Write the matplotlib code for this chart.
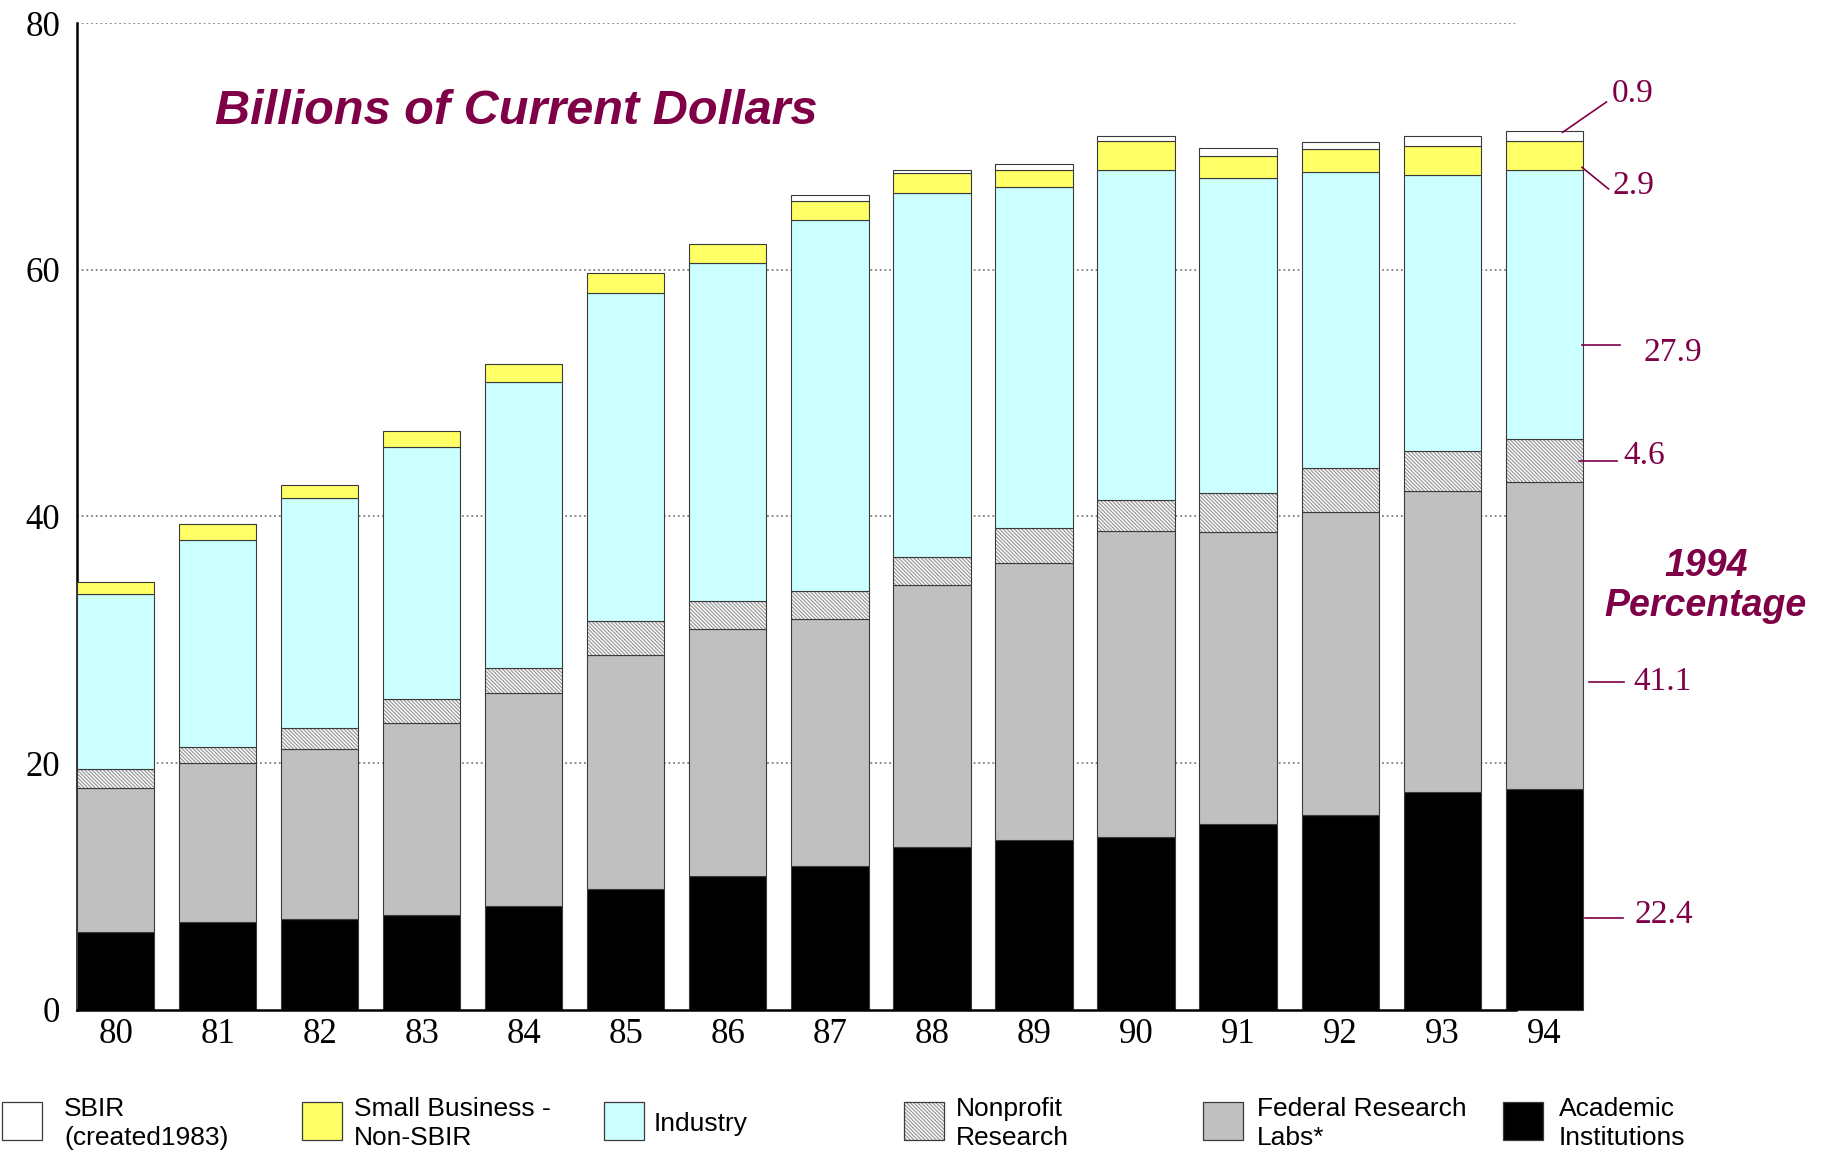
import numpy as np
import matplotlib
matplotlib.use("Agg")
import matplotlib.pyplot as plt
from matplotlib.patches import Rectangle

# Federal R&D obligations by performer, billions of current dollars
years = ["80", "81", "82", "83", "84", "85", "86", "87", "88", "89", "90", "91", "92", "93", "94"]
academic = [6.35, 7.09, 7.37, 7.71, 8.40, 9.82, 10.83, 11.64, 13.17, 13.79, 14.04, 15.04, 15.77, 17.63, 17.94]
federal_labs = [11.66, 12.94, 13.80, 15.51, 17.30, 18.98, 20.01, 20.07, 21.27, 22.46, 24.81, 23.69, 24.61, 24.41, 24.82]
nonprofit = [1.49, 1.27, 1.65, 1.96, 2.02, 2.74, 2.30, 2.21, 2.30, 2.84, 2.46, 3.20, 3.54, 3.24, 3.52]
industry = [14.18, 16.78, 18.65, 20.45, 23.18, 26.59, 27.38, 30.11, 29.45, 27.59, 26.74, 25.50, 24.00, 22.37, 21.83]
small_business = [0.97, 1.34, 1.10, 1.31, 1.46, 1.58, 1.58, 1.57, 1.65, 1.43, 2.36, 1.79, 1.84, 2.35, 2.33]
sbir = [0.0, 0.0, 0.0, 0.0, 0.0, 0.0, 0.0, 0.43, 0.27, 0.49, 0.40, 0.65, 0.57, 0.81, 0.78]

# 1994 shares (percent) printed beside the last bar
pct_1994 = ["0.9", "2.9", "27.9", "4.6", "41.1", "22.4"]

legend_labels = ["SBIR\n(created1983)", "Small Business -\nNon-SBIR", "Industry",
                 "Nonprofit\nResearch", "Federal Research\nLabs*", "Academic\nInstitutions"]

y_ticks = [0, 20, 40, 60, 80]

MAROON = "#7f0047"
EDGE = "#3a3a3a"
HATCH_EDGE = "#9a9a9a"
HATCH = "\\" * 9
SERIF = "Liberation Serif"
SANS = "Liberation Sans"

plt.rcParams["hatch.linewidth"] = 0.9

fig = plt.figure(figsize=(18.21, 11.5), dpi=100)
ax = fig.add_axes([0.0423, 0.1218, 0.8269, 0.8582])

x = np.arange(len(years))
width = 0.757
x_left, x_axis_end, x_right = -0.378, 13.72, 14.378

ac = np.array(academic)
fe = np.array(federal_labs)
nps = np.array(nonprofit)
ind = np.array(industry)
sb = np.array(small_business)
sr = np.array(sbir)

kw = dict(width=width, edgecolor=EDGE, linewidth=0.8, clip_on=False, zorder=3)
ax.bar(x, ac, color="black", **kw)
ax.bar(x, fe, bottom=ac, color="#c0c0c0", **kw)
b2 = ac + fe
ax.bar(x, nps, bottom=b2, color="white", hatch=HATCH, edgecolor=HATCH_EDGE,
       linewidth=0, width=width, clip_on=False, zorder=3)
ax.bar(x, nps, bottom=b2, color="none", **kw)
b3 = b2 + nps
ax.bar(x, ind, bottom=b3, color="#ccffff", **kw)
b4 = b3 + ind
ax.bar(x, sb, bottom=b4, color="#ffff66", **kw)
b5 = b4 + sb
has_sbir = sr > 0
ax.bar(x[has_sbir], sr[has_sbir], bottom=b5[has_sbir], color="white", **kw)

ax.set_xticks(x)
ax.set_xticklabels(years, fontsize=25, family=SERIF)
ax.set_yticks(y_ticks)
ax.set_yticklabels([str(v) for v in y_ticks], fontsize=25, family=SERIF)
ax.set_xlim(x_left, x_right)
ax.set_ylim(0, 80)
ax.tick_params(axis="y", length=0, pad=12)
ax.tick_params(axis="x", length=0, pad=6)

for s in ["top", "right"]:
    ax.spines[s].set_visible(False)
for s in ["left", "bottom"]:
    ax.spines[s].set_linewidth(1.8)
    ax.spines[s].set_color("black")
ax.spines["bottom"].set_zorder(4)
ax.spines["bottom"].set_bounds(x_left, x_axis_end)

# dotted reference lines stop where the plotting frame ends
ax.hlines(y_ticks[1:], x_left, x_axis_end, colors="#808080",
          linestyles=(0, (1, 1.6)), linewidth=1.3, zorder=0.5)

ax.text(0.973, 72.8, "Billions of Current Dollars", fontsize=35, family=SANS,
        weight="bold", style="italic", color=MAROON, ha="left", va="center")

# 1994 share call-outs
callouts = [
    ((14.18, 71.14), (14.61, 73.60), (14.665, 74.23)),
    ((14.37, 68.30), (14.63, 66.55), (14.665, 66.79)),
    ((14.37, 53.87), (14.74, 53.87), (14.97, 53.24)),
    ((14.34, 44.50), (14.71, 44.50), (14.78, 44.96)),
    ((14.44, 26.58), (14.78, 26.58), (14.87, 26.60)),
    ((14.40, 7.49), (14.77, 7.49), (14.88, 7.68)),
]
for label, (p0, p1, pt) in zip(pct_1994, callouts):
    ax.plot([p0[0], p1[0]], [p0[1], p1[1]], color=MAROON, linewidth=1.2,
            clip_on=False, zorder=5)
    ax.text(pt[0], pt[1], label, fontsize=24, family=SERIF, color=MAROON,
            ha="left", va="center", clip_on=False)

ax.text(15.59, 36.01, "1994", fontsize=27, family=SANS, weight="bold",
        style="italic", color=MAROON, ha="center", va="center", clip_on=False)
ax.text(15.58, 32.72, "Percentage", fontsize=27, family=SANS, weight="bold",
        style="italic", color=MAROON, ha="center", va="center", clip_on=False)

# Legend row along the bottom edge
W, H = 1821.0, 1150.0
box_left = [2.3, 302.0, 604.0, 903.6, 1203.0, 1502.8]
text_left = [63.9, 354.2, 653.9, 955.8, 1256.6, 1558.6]
legend_faces = ["white", "#ffff66", "#ccffff", "white", "#c0c0c0", "black"]
legend_hatch = [None, None, None, HATCH, None, None]
bw, bh, bbot = 40.0, 38.3, 1140.0
for bl, tl, fc, ht, lab in zip(box_left, text_left, legend_faces, legend_hatch, legend_labels):
    if ht:
        fig.patches.append(Rectangle((bl / W, 1 - bbot / H), bw / W, bh / H,
                                     transform=fig.transFigure, facecolor="white",
                                     hatch=ht, edgecolor=HATCH_EDGE, linewidth=0))
    fig.patches.append(Rectangle((bl / W, 1 - bbot / H), bw / W, bh / H,
                                 transform=fig.transFigure,
                                 facecolor="none" if ht else fc,
                                 edgecolor=EDGE, linewidth=0.9))
    fig.text(tl / W, 1 - 1123.5 / H, lab, fontsize=19, family=SANS,
             ha="left", va="center", linespacing=1.25)

fig.savefig("out.png", dpi=100, facecolor="white")
